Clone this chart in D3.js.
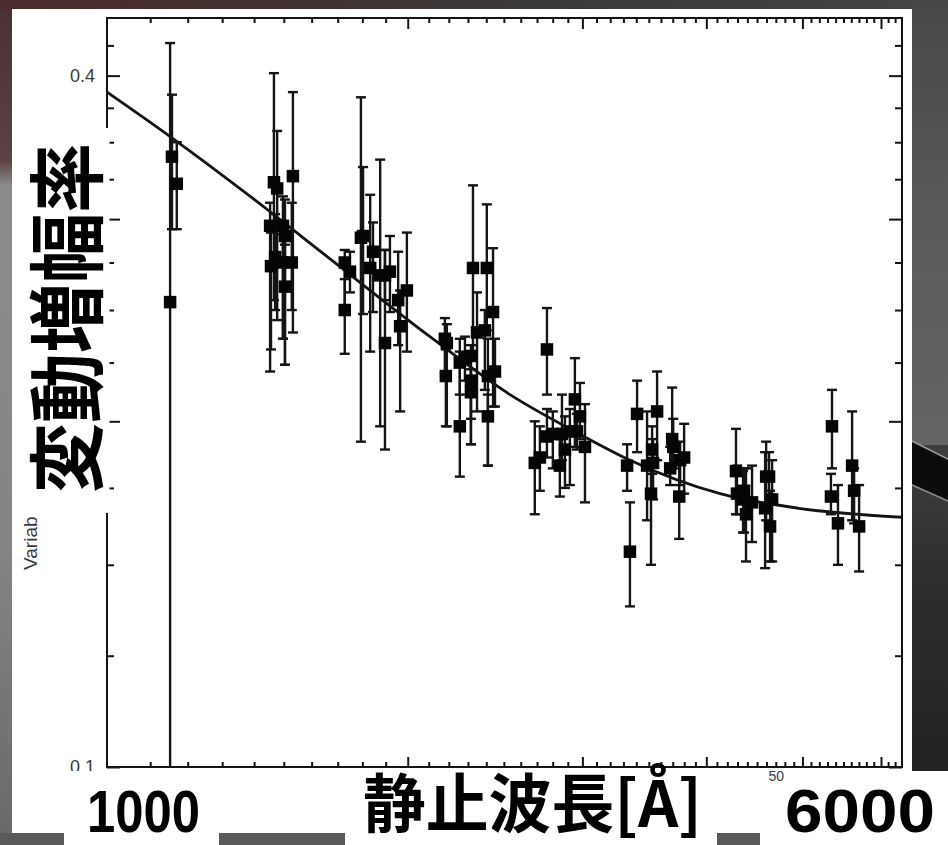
<!DOCTYPE html>
<html>
<head>
<meta charset="utf-8">
<script src="https://cdn.jsdelivr.net/npm/d3@7"></script>
<style>
  html, body { margin: 0; padding: 0; background: #3c3c3c; overflow: hidden; }
  svg { display: block; }
</style>
</head>
<body>
<svg id="chart" width="948" height="845"></svg>
<script>
// ---- data: composite variability amplitude per rest-frame wavelength bin ----
const wavelength = [
  1152, 1157, 1170,
  1466, 1477, 1453, 1497, 1504, 1470, 1456, 1497, 1528, 1504, 1532,
  1728, 1728, 1749, 1794, 1803, 1833, 1845, 1876, 1897, 1919, 1897, 1956, 1965, 1996,
  2180, 2190, 2185, 2257, 2257, 2284, 2316, 2316, 2316, 2327, 2349, 2392, 2403, 2409, 2409, 2438, 2449,
  2763, 2686, 2718, 2763, 2801, 2861, 2847, 2881, 2914, 2948, 2962, 2983, 3018,
  3328, 3350, 3406, 3486, 3527, 3535, 3518, 3568, 3695, 3704, 3678, 3764, 3799, 3756,
  4285, 4295, 4366, 4356, 4386, 4448, 4596, 4627, 4585, 4660, 4638,
  5355, 5342, 5430, 5611, 5637, 5703
];
const amplitude = [
  0.254, 0.340, 0.322,
  0.323, 0.319, 0.296, 0.296, 0.290, 0.278, 0.273, 0.275, 0.275, 0.262, 0.327,
  0.275, 0.250, 0.270, 0.289, 0.290, 0.272, 0.281, 0.268, 0.268, 0.270, 0.234, 0.255, 0.242, 0.260,
  0.236, 0.234, 0.219, 0.225, 0.198, 0.227, 0.228, 0.217, 0.212, 0.272, 0.239, 0.240, 0.272, 0.219, 0.202, 0.249, 0.221,
  0.231, 0.184, 0.186, 0.194, 0.195, 0.195, 0.183, 0.189, 0.196, 0.209, 0.196, 0.202, 0.190,
  0.183, 0.154, 0.203, 0.183, 0.189, 0.184, 0.173, 0.204, 0.193, 0.190, 0.182, 0.185, 0.186, 0.172,
  0.181, 0.173, 0.174, 0.171, 0.166, 0.170, 0.179, 0.179, 0.168, 0.171, 0.162,
  0.198, 0.172, 0.163, 0.183, 0.174, 0.162
];
const errLow = [
  0.095, 0.294, 0.294,
  0.255, 0.245, 0.221, 0.236, 0.224, 0.250, 0.231, 0.236, 0.250, 0.224, 0.239,
  0.250, 0.229, 0.259, 0.192, 0.248, 0.230, 0.249, 0.198, 0.255, 0.249, 0.189, 0.233, 0.204, 0.230,
  0.220, 0.198, 0.198, 0.211, 0.179, 0.217, 0.201, 0.191, 0.191, 0.226, 0.204, 0.213, 0.240, 0.183, 0.183, 0.206, 0.206,
  0.211, 0.166, 0.174, 0.186, 0.182, 0.185, 0.172, 0.175, 0.176, 0.190, 0.189, 0.193, 0.170,
  0.174, 0.138, 0.188, 0.164, 0.180, 0.171, 0.150, 0.185, 0.183, 0.182, 0.176, 0.176, 0.173, 0.158,
  0.166, 0.166, 0.160, 0.160, 0.151, 0.157, 0.164, 0.171, 0.149, 0.151, 0.151,
  0.182, 0.166, 0.150, 0.164, 0.163, 0.148
];
const errHigh = [
  0.427, 0.385, 0.350,
  0.402, 0.358, 0.310, 0.314, 0.312, 0.303, 0.292, 0.291, 0.310, 0.285, 0.387,
  0.282, 0.266, 0.281, 0.383, 0.333, 0.315, 0.298, 0.338, 0.282, 0.290, 0.282, 0.281, 0.260, 0.292,
  0.246, 0.243, 0.231, 0.236, 0.230, 0.237, 0.233, 0.229, 0.222, 0.321, 0.259, 0.250, 0.309, 0.236, 0.211, 0.283, 0.236,
  0.251, 0.200, 0.198, 0.205, 0.204, 0.211, 0.193, 0.202, 0.205, 0.227, 0.203, 0.216, 0.207,
  0.191, 0.170, 0.217, 0.204, 0.198, 0.193, 0.185, 0.221, 0.214, 0.201, 0.190, 0.192, 0.199, 0.185,
  0.197, 0.183, 0.182, 0.181, 0.182, 0.183, 0.192, 0.188, 0.188, 0.185, 0.174,
  0.213, 0.180, 0.176, 0.204, 0.182, 0.176
];

// exponential fit curve, sampled along the wavelength axis
const fitWavelength = [995, 1152, 1394, 1670, 2106, 2536, 2979, 3351, 4130, 4955, 6300];
const fitAmplitude  = [0.387, 0.354, 0.313, 0.277, 0.237, 0.211, 0.195, 0.185, 0.173, 0.168, 0.165];

// axis ticks
const yTicks = [0.1, 0.125, 0.15, 0.175, 0.2, 0.225, 0.25, 0.275, 0.3, 0.325, 0.35, 0.375, 0.4, 0.425];
const yMajor = [0.1, 0.2, 0.3, 0.4];
const yTickLabels = ["0.1", "", "", "0.4"];
const xTicks = d3.range(1100, 6300, 100);
const xMajor = [2000, 3000, 4000, 5000, 6000];

// ---- layout ----
const W = 948, H = 845;
const X0 = 107, X1 = 902, Y0 = 18, Y1 = 767;

const svg = d3.select("#chart");
const defs = svg.append("defs");

function linGrad(id, x2, y2, stops) {
  const g = defs.append("linearGradient").attr("id", id)
    .attr("x1", 0).attr("y1", 0).attr("x2", x2).attr("y2", y2);
  stops.forEach(([o, c]) => g.append("stop").attr("offset", o).attr("stop-color", c));
}
linGrad("leftStrip", 0, 1, [[0, "#4a3030"], [0.19, "#5b4242"], [0.22, "#8c8c8c"], [0.65, "#848484"], [1, "#686868"]]);
linGrad("topStrip", 1, 0, [[0, "#4b2b2b"], [0.3, "#403030"], [0.6, "#3a3a3a"], [1, "#454545"]]);
linGrad("rightUpper", 0, 1, [[0, "#474747"], [0.5, "#5a5a5a"], [1, "#656565"]]);
linGrad("rightLower", 0, 1, [[0, "#3e3e3e"], [0.4, "#2c2c2c"], [1, "#1d1d1d"]]);

// backdrop around the chart panel
svg.append("rect").attr("width", W).attr("height", H).attr("fill", "#555555");
svg.append("rect").attr("x", 0).attr("y", 0).attr("width", 12).attr("height", H).attr("fill", "url(#leftStrip)");
svg.append("rect").attr("x", 0).attr("y", 0).attr("width", W).attr("height", 9).attr("fill", "url(#topStrip)");
svg.append("rect").attr("x", 912).attr("y", 0).attr("width", 36).attr("height", 445).attr("fill", "url(#rightUpper)");
svg.append("rect").attr("x", 912).attr("y", 445).attr("width", 36).attr("height", 400).attr("fill", "url(#rightLower)");
svg.append("polygon").attr("points", "912,442 948,460 948,500 912,484").attr("fill", "#0c0c0c");
svg.append("line").attr("x1", 912).attr("y1", 441).attr("x2", 948).attr("y2", 459).attr("stroke", "#9a9a9a").attr("stroke-width", 1.5);
svg.append("line").attr("x1", 912).attr("y1", 485).attr("x2", 948).attr("y2", 501).attr("stroke", "#8a8a8a").attr("stroke-width", 1.5);
svg.append("rect").attr("x", 0).attr("y", 833).attr("width", W).attr("height", 12).attr("fill", "#5a5a5a");

// white chart panel
svg.append("rect").attr("x", 12).attr("y", 9).attr("width", 900).attr("height", 824).attr("fill", "#ffffff");

// ---- scales ----
const x = d3.scaleLog().domain([995, 6300]).range([X0, X1]);
const y = d3.scaleLog().domain([0.1, 0.449]).range([Y1, Y0]);

defs.append("clipPath").attr("id", "plotClip")
  .append("rect").attr("x", X0).attr("y", Y0).attr("width", X1 - X0).attr("height", Y1 - Y0);

const ink = "#141414";
const isMajorY = d => yMajor.some(m => Math.abs(m - d) < 1e-9);
const isMajorX = d => xMajor.includes(d);

// ---- axes (ticks drawn inward on all four sides) ----
const axisFont = "'Liberation Sans', Arial, Helvetica, sans-serif";

const gLeft = svg.append("g").attr("transform", `translate(${X0},0)`)
  .call(d3.axisLeft(y).tickValues(yTicks).tickSize(-7).tickPadding(12)
    .tickFormat(d => { const i = yMajor.findIndex(m => Math.abs(m - d) < 1e-9); return i >= 0 ? yTickLabels[i] : ""; }));
gLeft.selectAll(".tick line").attr("x2", d => isMajorY(d) ? 13 : 7);

const gRight = svg.append("g").attr("transform", `translate(${X1},0)`)
  .call(d3.axisRight(y).tickValues(yTicks).tickSize(-7).tickFormat(""));
gRight.selectAll(".tick line").attr("x2", d => isMajorY(d) ? -13 : -7);

const gTop = svg.append("g").attr("transform", `translate(0,${Y0})`)
  .call(d3.axisTop(x).tickValues(xTicks).tickSize(-5).tickFormat(""));
gTop.selectAll(".tick line").attr("y2", d => isMajorX(d) ? 11 : 5);

const gBottom = svg.append("g").attr("transform", `translate(0,${Y1})`)
  .call(d3.axisBottom(x).tickValues(xTicks).tickSize(-5).tickFormat(""));
gBottom.selectAll(".tick line").attr("y2", d => isMajorX(d) ? -10 : -5);

[gLeft, gRight, gTop, gBottom].forEach(g => {
  g.select(".domain").remove();
  g.selectAll(".tick line").attr("stroke", ink).attr("stroke-width", 2);
  g.selectAll(".tick text").attr("fill", "#3a3a3a").attr("font-family", axisFont).attr("font-size", 18);
});

// plot frame
svg.append("rect").attr("x", X0).attr("y", Y0).attr("width", X1 - X0).attr("height", Y1 - Y0)
  .attr("fill", "none").attr("stroke", ink).attr("stroke-width", 2);

// y-axis title
svg.append("text").attr("transform", "translate(37,570) rotate(-90)")
  .attr("font-family", axisFont).attr("font-size", 19).attr("fill", "#3a3a3a")
  .text("Variab");

// ---- data marks ----
const points = wavelength.map((w, i) => ({ w, a: amplitude[i], lo: errLow[i], hi: errHigh[i] }));
const plot = svg.append("g").attr("clip-path", "url(#plotClip)");

const fitLine = d3.line().x(d => x(d[0])).y(d => y(d[1])).curve(d3.curveMonotoneX);
plot.append("path").datum(fitWavelength.map((w, i) => [w, fitAmplitude[i]]))
  .attr("d", fitLine).attr("fill", "none").attr("stroke", ink).attr("stroke-width", 2.8);

const capW = 5;
const bars = plot.append("g").attr("stroke", ink).attr("stroke-width", 2.4);
bars.selectAll("line.bar").data(points).join("line").attr("class", "bar")
  .attr("x1", d => x(d.w)).attr("x2", d => x(d.w))
  .attr("y1", d => y(Math.max(d.lo, 0.1))).attr("y2", d => y(d.hi));
bars.selectAll("line.capHi").data(points).join("line").attr("class", "capHi")
  .attr("x1", d => x(d.w) - capW).attr("x2", d => x(d.w) + capW)
  .attr("y1", d => y(d.hi)).attr("y2", d => y(d.hi));
bars.selectAll("line.capLo").data(points.filter(d => d.lo >= 0.1)).join("line").attr("class", "capLo")
  .attr("x1", d => x(d.w) - capW).attr("x2", d => x(d.w) + capW)
  .attr("y1", d => y(d.lo)).attr("y2", d => y(d.lo));

const sq = 12.5;
plot.append("g").selectAll("rect").data(points).join("rect")
  .attr("x", d => x(d.w) - sq / 2).attr("y", d => y(d.a) - sq / 2)
  .attr("width", sq).attr("height", sq).attr("fill", "#050505");

// ---- Japanese captions on white plates ----
const jpFont = "'Noto Sans CJK JP', 'Noto Sans CJK SC', sans-serif";
const numFont = "'Liberation Sans Narrow', 'Liberation Sans', Arial, sans-serif";

// vertical axis caption
svg.append("rect").attr("x", 22).attr("y", 128).attr("width", 87.5).attr("height", 385).attr("fill", "#ffffff");
svg.append("text").attr("transform", "translate(96,318) rotate(-90)")
  .attr("text-anchor", "middle").attr("font-family", jpFont).attr("font-weight", 700)
  .attr("font-size", 77).attr("textLength", 350).attr("lengthAdjust", "spacingAndGlyphs")
  .attr("fill", "#000").text("変動増幅率");

// strip hiding the original wavelength labels
svg.append("rect").attr("x", 60).attr("y", 771).attr("width", 732).attr("height", 62).attr("fill", "#ffffff");

// the only wavelength tick label left uncovered
svg.append("text").attr("x", 784).attr("y", 781).attr("text-anchor", "end")
  .attr("font-family", axisFont).attr("font-size", 14).attr("fill", "#3a3a3a").text("50");

// "1000" plate
svg.append("rect").attr("x", 64).attr("y", 771).attr("width", 155).attr("height", 74).attr("fill", "#ffffff");
svg.append("text").attr("x", 87).attr("y", 832)
  .attr("font-family", numFont).attr("font-weight", 700).attr("font-size", 59)
  .attr("textLength", 113).attr("lengthAdjust", "spacingAndGlyphs").attr("fill", "#000").text("1000");

// axis caption plate
svg.append("rect").attr("x", 345).attr("y", 771).attr("width", 372).attr("height", 74).attr("fill", "#ffffff");
svg.append("text").attr("x", 363).attr("y", 826.5)
  .attr("font-family", jpFont).attr("font-weight", 700).attr("font-size", 64)
  .attr("textLength", 339).attr("lengthAdjust", "spacingAndGlyphs").attr("fill", "#000").text("静止波長[Å]");

// "6000" plate
svg.append("rect").attr("x", 792).attr("y", 771).attr("width", 156).attr("height", 74).attr("fill", "#ffffff");
svg.append("rect").attr("x", 760).attr("y", 786).attr("width", 40).attr("height", 59).attr("fill", "#ffffff");
svg.append("text").attr("x", 785).attr("y", 831.5)
  .attr("font-family", numFont).attr("font-weight", 700).attr("font-size", 62)
  .attr("textLength", 150).attr("lengthAdjust", "spacingAndGlyphs").attr("fill", "#000").text("6000");
</script>
</body>
</html>
